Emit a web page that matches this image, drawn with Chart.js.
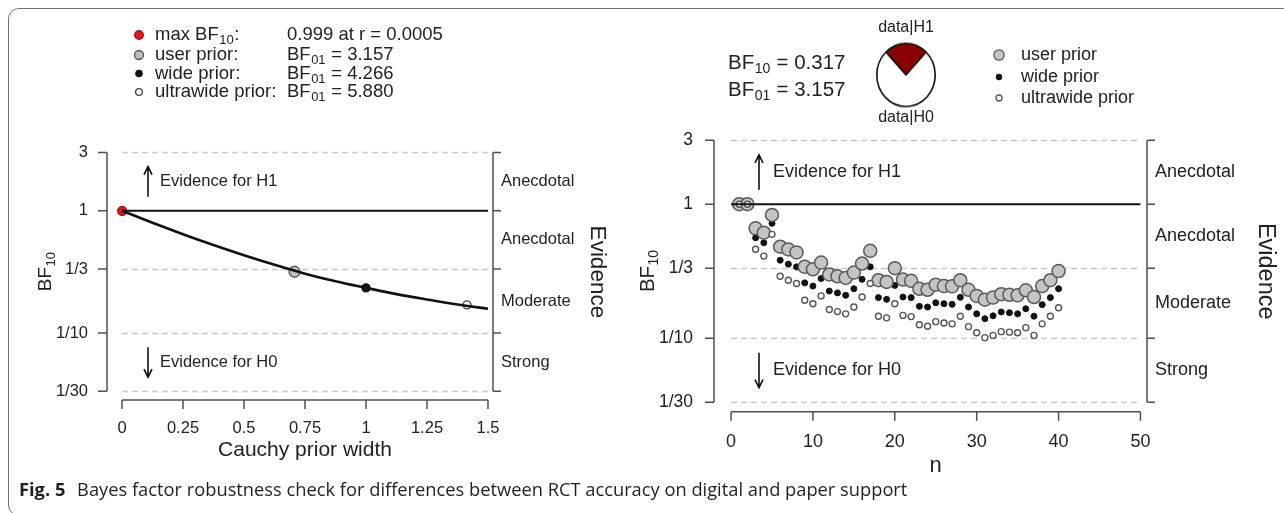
<!DOCTYPE html>
<html>
<head>
<meta charset="utf-8">
<script src="https://cdn.jsdelivr.net/npm/chart.js@4.4.1/dist/chart.umd.min.js"></script>
<style>
  html, body { margin: 0; padding: 0; background: #fff; }
  #page { position: relative; width: 1284px; height: 513px; overflow: hidden; font-family: "Liberation Sans", Arial, sans-serif; }
  #frame { position: absolute; left: 8px; top: 8px; width: 1300px; height: 508px; border: 1.5px solid #707070; border-radius: 11px; box-sizing: border-box; }
  .panel { position: absolute; top: 0; height: 513px; }
  #leftPanel { left: 0; width: 640px; }
  #rightPanel { left: 640px; width: 644px; }
  #pieBox { position: absolute; left: 876px; top: 45px; width: 60px; height: 60px; transform: scaleY(1.08); }
  #caption { position: absolute; left: 19px; top: 476px; font-family: "Open Sans", sans-serif; font-size: 18.3px; color: #231f20; white-space: nowrap; }
  #caption b { font-weight: 700; margin-right: 7px; }
</style>
</head>
<body>
<div id="page">
  <div id="frame"></div>
  <div class="panel" id="leftPanel"><canvas id="robustness"></canvas></div>
  <div class="panel" id="rightPanel"><canvas id="sequential"></canvas></div>
  <div id="pieBox"><canvas id="pie"></canvas></div>
  <div id="caption"><b>Fig. 5</b> Bayes factor robustness check for differences between RCT accuracy on digital and paper support</div>
</div>
<script>
// ---- data ----
const priorWidth = [0, 0.125, 0.25, 0.375, 0.5, 0.625, 0.75, 0.875, 1, 1.125, 1.25, 1.375, 1.5]
const robustnessBF = [1, 0.798, 0.643, 0.524, 0.432, 0.361, 0.306, 0.265, 0.234, 0.208, 0.188, 0.171, 0.158]

// max BF10, user prior, wide prior, ultrawide prior
const markerWidth = [0.0005, 0.707, 1, 1.414]
const markerBF = [0.999, 0.317, 0.234, 0.170]

const nObs = [1, 2, 3, 4, 5, 6, 7, 8, 9, 10, 11, 12, 13, 14, 15, 16, 17, 18, 19, 20,
  21, 22, 23, 24, 25, 26, 27, 28, 29, 30, 31, 32, 33, 34, 35, 36, 37, 38, 39, 40]
const userPriorBF = [1, 1, 0.661, 0.613, 0.832, 0.482, 0.460, 0.437, 0.341, 0.327,
  0.367, 0.299, 0.290, 0.282, 0.309, 0.361, 0.449, 0.271, 0.263, 0.333,
  0.274, 0.268, 0.234, 0.230, 0.251, 0.245, 0.244, 0.271, 0.230, 0.207,
  0.194, 0.201, 0.213, 0.211, 0.209, 0.228, 0.203, 0.245, 0.271, 0.317]
const widePriorBF = [1, 1, 0.562, 0.516, 0.720, 0.382, 0.357, 0.341, 0.259, 0.245,
  0.279, 0.225, 0.218, 0.209, 0.234, 0.275, 0.341, 0.201, 0.195, 0.248,
  0.203, 0.201, 0.173, 0.171, 0.184, 0.181, 0.179, 0.202, 0.171, 0.152,
  0.140, 0.147, 0.157, 0.155, 0.152, 0.166, 0.146, 0.178, 0.201, 0.234]
const ultrawidePriorBF = [1, 1, 0.462, 0.410, 0.596, 0.290, 0.271, 0.256, 0.192, 0.181,
  0.207, 0.164, 0.158, 0.152, 0.171, 0.203, 0.256, 0.146, 0.142, 0.181,
  0.148, 0.145, 0.126, 0.123, 0.133, 0.130, 0.128, 0.146, 0.122, 0.110,
  0.101, 0.105, 0.112, 0.111, 0.110, 0.120, 0.105, 0.128, 0.146, 0.169]

// data|H1 vs data|H0 wedge
const pieShares = [0.241, 0.759]

// axes
const evidenceTicks = [1 / 30, 1 / 10, 1 / 3, 1, 3]
const evidenceTickLabels = ["1/30", "1/10", "1/3", "1", "3"]
const evidenceBands = ["Strong", "Moderate", "Anecdotal", "Anecdotal"]
const widthTicks = [0, 0.25, 0.5, 0.75, 1, 1.25, 1.5]
const nTicks = [0, 10, 20, 30, 40, 50]

// ---- drawing helpers ----
const INK = "#222"
const AXIS = "#505050"
const DASH = "#c6c6c6"
const FONT = '"Liberation Sans", Arial, sans-serif'

function font(size) { return size + "px " + FONT }

// base text + subscript + tail, vertically centred on y
function subText(ctx, x, y, base, sub, size, tail, align) {
  const subSize = Math.round(size * 0.68)
  ctx.font = font(size)
  const wb = ctx.measureText(base).width
  const wt = tail ? ctx.measureText(tail).width : 0
  ctx.font = font(subSize)
  const ws = ctx.measureText(sub).width
  let x0 = x
  if (align === "center") x0 = x - (wb + ws + wt) / 2
  ctx.textAlign = "left"
  ctx.textBaseline = "middle"
  ctx.font = font(size)
  ctx.fillText(base, x0, y)
  ctx.font = font(subSize)
  ctx.fillText(sub, x0 + wb + 0.5, y + size * 0.3)
  if (tail) {
    ctx.font = font(size)
    ctx.fillText(tail, x0 + wb + ws + 1, y)
  }
}

function arrow(ctx, x, yFrom, yTo) {
  const d = yTo > yFrom ? -1 : 1
  ctx.beginPath()
  ctx.moveTo(x, yFrom)
  ctx.lineTo(x, yTo)
  ctx.moveTo(x - 4, yTo + d * 8)
  ctx.lineTo(x, yTo)
  ctx.lineTo(x + 4, yTo + d * 8)
  ctx.stroke()
}

function dot(ctx, x, y, r, fill, stroke) {
  ctx.beginPath()
  ctx.arc(x, y, r, 0, Math.PI * 2)
  ctx.fillStyle = fill
  ctx.fill()
  if (stroke) {
    ctx.lineWidth = 1.3
    ctx.strokeStyle = stroke
    ctx.stroke()
  }
}

// R-style frame: dashed reference levels, axes, evidence bracket, labels
const decor = {
  id: "decor",
  beforeDatasetsDraw(chart, args, opts) {
    const { ctx, scales: { x, y } } = chart
    const x0 = x.getPixelForValue(opts.xTicks[0])
    const x1 = x.getPixelForValue(opts.xTicks[opts.xTicks.length - 1])
    ctx.save()
    ctx.strokeStyle = DASH
    ctx.lineWidth = 1.4
    ctx.setLineDash([6, 4])
    evidenceTicks.forEach((v) => {
      if (v === 1) return
      const py = Math.round(y.getPixelForValue(v)) + 0.5
      ctx.beginPath()
      ctx.moveTo(x0, py)
      ctx.lineTo(x1, py)
      ctx.stroke()
    })
    ctx.restore()
  },
  afterDraw(chart, args, opts) {
    const { ctx, chartArea: area, scales: { x, y } } = chart
    const yTop = y.getPixelForValue(3)
    const yBot = y.getPixelForValue(1 / 30)
    const x0 = x.getPixelForValue(opts.xTicks[0])
    const x1 = x.getPixelForValue(opts.xTicks[opts.xTicks.length - 1])
    ctx.save()
    ctx.strokeStyle = AXIS
    ctx.lineWidth = 1.5
    ctx.setLineDash([])

    // left axis
    ctx.beginPath()
    ctx.moveTo(area.left, yTop)
    ctx.lineTo(area.left, yBot)
    evidenceTicks.forEach((v) => {
      const py = y.getPixelForValue(v)
      ctx.moveTo(area.left, py)
      ctx.lineTo(area.left - 9, py)
    })
    // bottom axis
    ctx.moveTo(x0, area.bottom)
    ctx.lineTo(x1, area.bottom)
    opts.xTicks.forEach((v) => {
      const px = x.getPixelForValue(v)
      ctx.moveTo(px, area.bottom)
      ctx.lineTo(px, area.bottom + 9)
    })
    // evidence bracket on the right
    ctx.moveTo(area.right, yTop)
    ctx.lineTo(area.right, yBot)
    evidenceTicks.forEach((v) => {
      const py = y.getPixelForValue(v)
      ctx.moveTo(area.right, py)
      ctx.lineTo(area.right + 8, py)
    })
    ctx.stroke()

    ctx.fillStyle = INK
    ctx.font = font(opts.bandSize)
    ctx.textAlign = "left"
    ctx.textBaseline = "middle"
    evidenceBands.forEach((label, i) => {
      const py = (y.getPixelForValue(evidenceTicks[i]) + y.getPixelForValue(evidenceTicks[i + 1])) / 2
      ctx.fillText(label, area.right + 8, py)
    })

    // Evidence for H1 / H0
    ctx.strokeStyle = "#111"
    ctx.lineWidth = 1.6
    const ax = area.left + opts.arrowDx
    const yH1 = (y.getPixelForValue(3) + y.getPixelForValue(1)) / 2
    const yH0 = (y.getPixelForValue(1 / 10) + y.getPixelForValue(1 / 30)) / 2
    arrow(ctx, ax, yH1 + opts.arrowLen / 2, yH1 - opts.arrowLen / 2)
    arrow(ctx, ax, yH0 - opts.arrowLen / 2, yH0 + opts.arrowLen / 2)
    ctx.font = font(opts.bandSize)
    ctx.fillText("Evidence for H1", ax + opts.textDx, yH1)
    ctx.fillText("Evidence for H0", ax + opts.textDx, yH0)

    // axis titles
    const yMid = (yTop + yBot) / 2
    ctx.save()
    ctx.translate(opts.bfX, yMid)
    ctx.rotate(-Math.PI / 2)
    subText(ctx, 0, 0, "BF", "10", opts.bfSize, "", "center")
    ctx.restore()

    ctx.save()
    ctx.translate(opts.evidenceX, yMid)
    ctx.rotate(Math.PI / 2)
    ctx.font = font(opts.evidenceSize)
    ctx.textAlign = "center"
    ctx.fillText("Evidence", 0, 0)
    ctx.restore()

    ctx.font = font(opts.xTitleSize)
    ctx.textAlign = "center"
    ctx.fillText(opts.xTitle, (x0 + x1) / 2, opts.xTitleY)

    if (opts.extra) opts.extra(ctx)
    ctx.restore()
  }
}

function logY(width, size, pad) {
  return {
    type: "logarithmic",
    min: 0.0283,
    max: 3.52,
    afterBuildTicks: (s) => { s.ticks = evidenceTicks.map((v) => ({ value: v })) },
    afterFit: (s) => { s.width = width },
    grid: { display: false, drawTicks: false },
    border: { display: false },
    ticks: {
      autoSkip: false,
      padding: pad,
      color: INK,
      font: { family: FONT, size: size },
      callback: (v, i) => evidenceTickLabels[i]
    }
  }
}

function linX(min, max, tickVals, height, size, pad) {
  return {
    type: "linear",
    min: min,
    max: max,
    afterBuildTicks: (s) => { s.ticks = tickVals.map((v) => ({ value: v })) },
    afterFit: (s) => { s.height = height },
    grid: { display: false, drawTicks: false },
    border: { display: false },
    ticks: {
      autoSkip: false,
      maxRotation: 0,
      padding: pad,
      color: INK,
      font: { family: FONT, size: size },
      callback: (v) => String(v)
    }
  }
}

const common = {
  responsive: true,
  maintainAspectRatio: false,
  animation: false,
  events: []
}

// ---- left: robustness check ----
new Chart(document.getElementById("robustness"), {
  type: "scatter",
  data: {
    datasets: [
      {
        data: [{ x: widthTicks[0], y: 1 }, { x: widthTicks[widthTicks.length - 1], y: 1 }],
        showLine: true, borderColor: "#111", borderWidth: 2, pointRadius: 0
      },
      {
        data: priorWidth.map((w, i) => ({ x: w, y: robustnessBF[i] })),
        showLine: true, borderColor: "#111", borderWidth: 2.6, pointRadius: 0,
        cubicInterpolationMode: "monotone"
      },
      {
        data: markerWidth.map((w, i) => ({ x: w, y: markerBF[i] })),
        pointRadius: [4.5, 5.5, 4, 4],
        pointBackgroundColor: ["#e8141b", "#bdbdbd", "#111", "#fff"],
        pointBorderColor: ["#9a1010", "#555", "#111", "#444"],
        pointBorderWidth: 1.3
      }
    ]
  },
  options: Object.assign({}, common, {
    layout: { padding: { left: 0, top: 144, right: 147, bottom: 0 } },
    scales: {
      x: linX(-0.0615, 1.5205, widthTicks, 113, 16.5, 19),
      y: logY(107, 16.5, 19)
    },
    plugins: {
      legend: { display: false },
      tooltip: { enabled: false },
      decor: {
        xTicks: widthTicks,
        bandSize: 16.5,
        arrowDx: 41,
        textDx: 12,
        arrowLen: 30,
        bfSize: 19,
        evidenceSize: 22.5,
        xTitleSize: 21,
        xTitle: "Cauchy prior width",
        xTitleY: 450,
        bfX: 46,
        evidenceX: 597,
        extra: (ctx) => {
          const rows = [35, 55, 73.5, 92]
          dot(ctx, 139, rows[0], 4.3, "#e8141b", "#9a1010")
          dot(ctx, 139, rows[1], 4.5, "#bdbdbd", "#555")
          dot(ctx, 139, rows[2], 3.8, "#111")
          dot(ctx, 139, rows[3], 3.4, "#fff", "#444")
          ctx.fillStyle = INK
          subText(ctx, 155, rows[0], "max BF", "10", 18.5, ":")
          ctx.font = font(18.5)
          ctx.fillText("user prior:", 155, rows[1])
          ctx.fillText("wide prior:", 155, rows[2])
          ctx.fillText("ultrawide prior:", 155, rows[3])
          ctx.fillText("0.999 at r = 0.0005", 287, rows[0])
          subText(ctx, 287, rows[1], "BF", "01", 18.5, " = 3.157")
          subText(ctx, 287, rows[2], "BF", "01", 18.5, " = 4.266")
          subText(ctx, 287, rows[3], "BF", "01", 18.5, " = 5.880")
        }
      }
    }
  }),
  plugins: [decor]
})

// ---- right: sequential analysis ----
new Chart(document.getElementById("sequential"), {
  type: "scatter",
  data: {
    datasets: [
      {
        data: [{ x: nTicks[0], y: 1 }, { x: nTicks[nTicks.length - 1], y: 1 }],
        showLine: true, borderColor: "#111", borderWidth: 2, pointRadius: 0
      },
      {
        data: nObs.map((n, i) => ({ x: n, y: ultrawidePriorBF[i] })),
        pointRadius: 3, pointBackgroundColor: "#fff", pointBorderColor: "#555", pointBorderWidth: 1.4
      },
      {
        data: nObs.map((n, i) => ({ x: n, y: userPriorBF[i] })),
        pointRadius: 6.5, pointBackgroundColor: "#c4c4c4", pointBorderColor: "#5a5a5a", pointBorderWidth: 1.5
      },
      {
        data: nObs.map((n, i) => ({ x: n, y: widePriorBF[i] })),
        pointRadius: 3, pointBackgroundColor: "#111", pointBorderColor: "#111", pointBorderWidth: 1
      }
    ]
  },
  options: Object.assign({}, common, {
    layout: { padding: { left: 0, top: 131, right: 137, bottom: 0 } },
    scales: {
      x: linX(-2.08, 50.8, nTicks, 101.3, 18, 20),
      y: logY(74, 17.5, 21)
    },
    plugins: {
      legend: { display: false },
      tooltip: { enabled: false },
      decor: {
        xTicks: nTicks,
        bandSize: 18,
        arrowDx: 45,
        textDx: 14,
        arrowLen: 35,
        bfSize: 20.5,
        evidenceSize: 23.5,
        xTitleSize: 22,
        xTitle: "n",
        xTitleY: 466,
        bfX: 8,
        evidenceX: 625,
        extra: (ctx) => {
          ctx.fillStyle = INK
          subText(ctx, 88, 63, "BF", "10", 20.5, " = 0.317")
          subText(ctx, 88, 90, "BF", "01", 20.5, " = 3.157")
          ctx.font = font(16)
          ctx.textAlign = "center"
          ctx.fillText("data|H1", 266, 28)
          ctx.fillText("data|H0", 266, 118)
          const rows = [55, 77, 98]
          dot(ctx, 359, rows[0], 5.2, "#c4c4c4", "#5a5a5a")
          dot(ctx, 359, rows[1], 3.2, "#111")
          dot(ctx, 359, rows[2], 3, "#fff", "#555")
          ctx.fillStyle = INK
          ctx.font = font(18)
          ctx.textAlign = "left"
          ctx.fillText("user prior", 381, rows[0])
          ctx.fillText("wide prior", 381, rows[1])
          ctx.fillText("ultrawide prior", 381, rows[2])
        }
      }
    }
  }),
  plugins: [decor]
})

// ---- pie: data|H1 vs data|H0 ----
new Chart(document.getElementById("pie"), {
  type: "pie",
  data: {
    labels: ["data|H1", "data|H0"],
    datasets: [{
      data: pieShares,
      backgroundColor: ["#8b0000", "#ffffff"],
      borderColor: "#111",
      borderWidth: 1.6
    }]
  },
  options: Object.assign({}, common, {
    rotation: -pieShares[0] * 180,
    plugins: { legend: { display: false }, tooltip: { enabled: false } }
  })
})
</script>
</body>
</html>
